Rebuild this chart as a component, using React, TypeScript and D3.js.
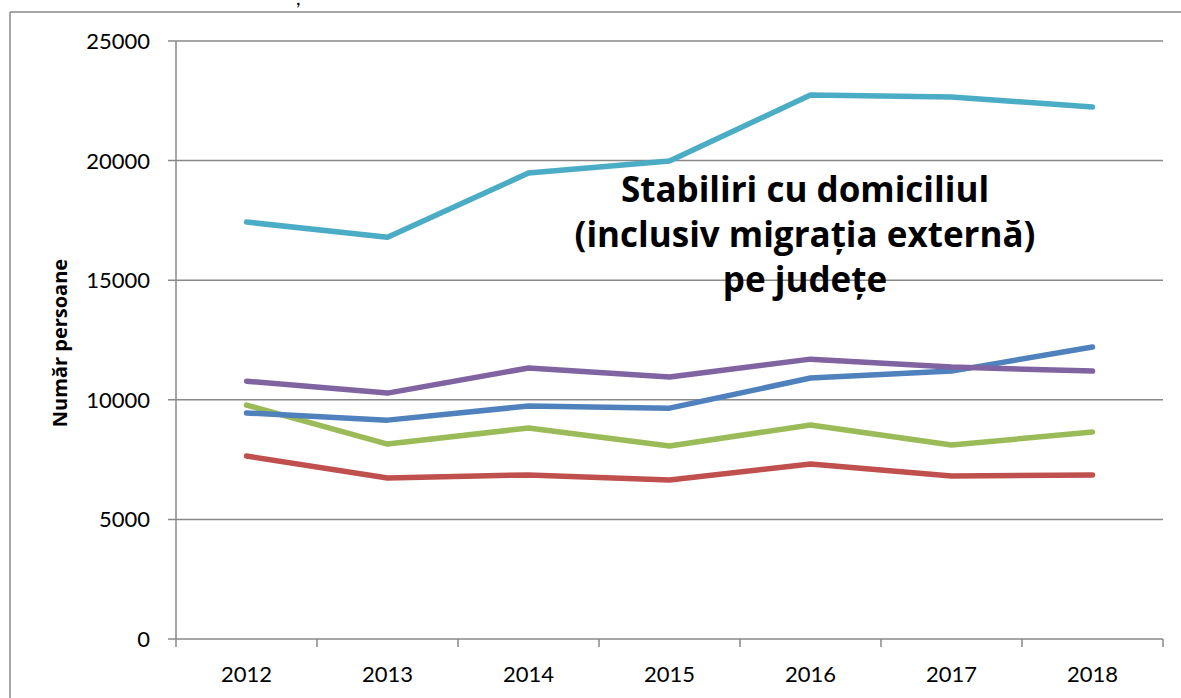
import React from "react";
import * as d3 from "d3";

const years = ["2012", "2013", "2014", "2015", "2016", "2017", "2018"];
const yTicks = [0, 5000, 10000, 15000, 20000, 25000];
const seriesCyan = [17430, 16800, 19480, 19980, 22740, 22660, 22240];
const seriesBlue = [9450, 9150, 9740, 9650, 10910, 11200, 12210];
const seriesPurple = [10780, 10280, 11330, 10950, 11700, 11370, 11200];
const seriesGreen = [9780, 8150, 8820, 8070, 8950, 8110, 8650];
const seriesRed = [7650, 6730, 6860, 6650, 7320, 6810, 6860];
const seriesColors = ["#C0504D", "#9BBB59", "#4F81BD", "#8064A2", "#4BACC6"];
const seriesList = [seriesRed, seriesGreen, seriesBlue, seriesPurple, seriesCyan];
const yTitle = "Număr persoane";
const annotation = ["Stabiliri cu domiciliul", "(inclusiv migrația externă)", "pe județe"];

export default function App() {
  const W = 1181, H = 698;
  const left = 176, right = 1163, top = 41, bottom = 639;
  const x = d3.scaleBand<string>().domain(years).range([left, right]);
  const y = d3.scaleLinear().domain([0, 25000]).range([bottom, top]);
  const line = d3
    .line<number>()
    .x((_, i) => (x(years[i]) as number) + x.bandwidth() / 2)
    .y((d) => y(d));
  const font = "Lato, 'Open Sans', sans-serif";
  const boldFont = "'Open Sans', 'DejaVu Sans', sans-serif";
  const grid = "#888888";
  return (
    <svg
      width={W}
      height={H}
      style={{ position: "absolute", left: 0, top: 0, background: "#fff" }}
    >
      <rect x={0} y={0} width={W} height={H} fill="#fff" />
      {/* outer frame */}
      <line x1={10} y1={12} x2={W} y2={12} stroke={grid} strokeWidth={1.5} />
      <line x1={10} y1={12} x2={10} y2={H} stroke={grid} strokeWidth={1.5} />
      <text x={296} y={5} fontFamily={font} fontSize={20} fill="#000">,</text>
      {/* gridlines and y ticks */}
      {yTicks.map((t) => (
        <g key={t}>
          <line x1={168} x2={right} y1={y(t)} y2={y(t)} stroke={grid} strokeWidth={1.5} />
          <text
            x={150}
            y={y(t)}
            dy="0.36em"
            textAnchor="end"
            fontFamily={font}
            fontSize={22}
            fill="#000"
          >
            {t}
          </text>
        </g>
      ))}
      <line x1={left} x2={left} y1={top} y2={bottom + 8} stroke={grid} strokeWidth={1.5} />
      {years.map((yr) => (
        <g key={yr}>
          <line
            x1={(x(yr) as number) + x.bandwidth()}
            x2={(x(yr) as number) + x.bandwidth()}
            y1={bottom}
            y2={bottom + 8}
            stroke={grid}
            strokeWidth={1.5}
          />
          <text
            x={(x(yr) as number) + x.bandwidth() / 2}
            y={682}
            textAnchor="middle"
            fontFamily={font}
            fontSize={22}
            fill="#000"
          >
            {yr}
          </text>
        </g>
      ))}
      <text
        transform={`translate(67,343) rotate(-90)`}
        textAnchor="middle"
        fontFamily={boldFont}
        fontWeight="bold"
        fontSize={20}
        fill="#000"
      >
        {yTitle}
      </text>
      {seriesList.map((s, i) => (
        <path
          key={i}
          d={line(s) || ""}
          fill="none"
          stroke={seriesColors[i]}
          strokeWidth={5.5}
          strokeLinecap="round"
          strokeLinejoin="round"
        />
      ))}
      {annotation.map((t, i) => (
        <text
          key={i}
          x={805}
          y={202 + i * 45}
          textAnchor="middle"
          fontFamily={boldFont}
          fontWeight="bold"
          fontSize={35}
          fill="#000"
        >
          {t}
        </text>
      ))}
    </svg>
  );
}
